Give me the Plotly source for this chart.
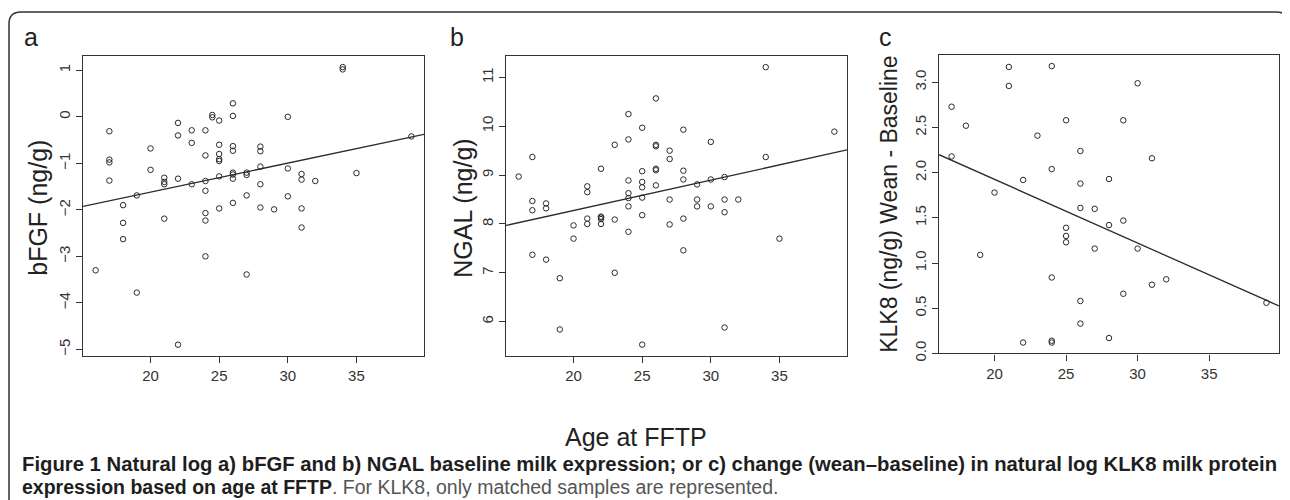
import plotly.graph_objects as go

# ---------------- data ----------------
# Panel a: bFGF (ln ng/g) vs age at FFTP
a_age = [16, 17, 17, 17, 17, 18, 18, 18, 19, 19, 20, 20, 21, 21, 21, 21,
         22, 22, 22, 22, 23, 23, 23, 24, 24, 24, 24, 24, 24, 24, 24.5, 24.5,
         25, 25, 25, 25, 25, 25, 25, 26, 26, 26, 26, 26, 26, 26, 26,
         27, 27, 27, 27, 28, 28, 28, 28, 28, 29, 30, 30, 30, 31, 31, 31, 31,
         32, 34, 34, 35, 39]
a_val = [-3.30, -0.31, -0.92, -0.98, -1.37, -1.90, -2.28, -2.63, -1.69, -3.78,
         -0.68, -1.14, -1.31, -1.40, -1.45, -2.19, -0.13, -0.40, -1.33, -4.90,
         -0.29, -0.56, -1.45, -0.29, -0.83, -1.38, -1.59, -2.07, -2.23, -3.00,
         0.04, -0.01, -0.08, -0.60, -0.80, -0.91, -0.95, -1.28, -1.97,
         0.29, 0.02, -0.63, -0.73, -1.20, -1.24, -1.33, -1.85,
         -1.20, -1.25, -1.69, -3.39, -0.64, -0.74, -1.07, -1.45, -1.95,
         -1.99, 0.00, -1.11, -1.71, -1.23, -1.35, -1.97, -2.38,
         -1.38, 1.07, 1.02, -1.21, -0.42]
a_fit = (-2.864, 0.0623)  # intercept, slope

# Panel b: NGAL (ln ng/g) vs age at FFTP
b_age = [16, 17, 17, 17, 17, 18, 18, 18, 19, 19, 20, 20, 21, 21, 21, 21,
         22, 22, 22, 22, 22, 23, 23, 23, 24, 24, 24, 24, 24, 24, 24,
         25, 25, 25, 25, 25, 25, 25, 26, 26, 26, 26, 26, 26,
         27, 27, 27, 27, 28, 28, 28, 28, 28, 29, 29, 29, 30, 30, 30,
         31, 31, 31, 31, 32, 34, 34, 35, 39]
b_val = [8.97, 9.37, 8.47, 8.28, 7.37, 8.42, 8.32, 7.27, 6.89, 5.84, 7.97, 7.70,
         8.77, 8.65, 8.11, 8.00, 9.13, 8.15, 8.13, 8.10, 8.00, 9.62, 8.09, 7.00,
         10.25, 9.73, 8.89, 8.63, 8.53, 8.36, 7.84,
         9.97, 9.08, 8.86, 8.75, 8.54, 8.18, 5.53, 10.57, 9.62, 9.59, 9.13, 9.10, 8.79,
         9.50, 9.33, 8.50, 7.99, 9.93, 9.09, 8.91, 8.11, 7.46, 8.81, 8.50, 8.36,
         9.68, 8.91, 8.36, 8.96, 8.50, 8.24, 5.88, 8.50, 11.21, 9.37, 7.70, 9.89]
b_fit = (7.030, 0.06225)

# Panel c: KLK8 change (wean - baseline) vs age at FFTP
c_age = [17, 17, 18, 19, 20, 21, 21, 22, 22, 23, 24, 24, 24, 24, 24,
         25, 25, 25, 25, 26, 26, 26, 26, 26, 27, 27, 28, 28, 28,
         29, 29, 29, 30, 30, 31, 31, 32, 39]
c_val = [2.73, 2.18, 2.52, 1.09, 1.78, 3.17, 2.96, 1.92, 0.12, 2.41, 3.18, 2.04, 0.84, 0.14, 0.12,
         2.58, 1.39, 1.30, 1.23, 2.24, 1.88, 1.61, 0.58, 0.33, 1.60, 1.16, 1.93, 1.42, 0.17,
         2.58, 1.47, 0.66, 2.99, 1.16, 2.16, 0.76, 0.82, 0.56]
c_fit = (3.335, -0.07046)

x_ticks = [20, 25, 30, 35]
a_yticks = [-5, -4, -3, -2, -1, 0, 1]
b_yticks = [6, 7, 8, 9, 10, 11]
c_yticks = [0.0, 0.5, 1.0, 1.5, 2.0, 2.5, 3.0]
c_yticktext = ["0.0", "0.5", "1.0", "1.5", "2.0", "2.5", "3.0"]

a_xrange, a_yrange = [15.08, 39.92], [-5.14, 1.31]
b_xrange, b_yrange = [15.08, 39.92], [5.30, 11.44]
c_xrange, c_yrange = [16.12, 39.88], [0.0, 3.30]

# ---------------- figure ----------------
W, H = 1290, 500
OFF = 8  # page body margin
FONT = "Liberation Sans, Arial, sans-serif"
INK = "#2a2a2a"


def px(x):
    return (x - OFF) / W


def py(y):
    return 1 - (y - OFF) / H


fig = go.Figure()

panels = [
    (a_age, a_val, a_fit, a_xrange, "x", "y"),
    (b_age, b_val, b_fit, b_xrange, "x2", "y2"),
    (c_age, c_val, c_fit, c_xrange, "x3", "y3"),
]
for ages, vals, (b0, b1), xr, xa, ya in panels:
    fig.add_trace(go.Scatter(
        x=ages, y=vals, mode="markers", xaxis=xa, yaxis=ya,
        marker=dict(symbol="circle-open", size=5.5, color=INK, line=dict(width=1, color=INK)),
        showlegend=False, hoverinfo="x+y"))
    fig.add_trace(go.Scatter(
        x=xr, y=[b0 + b1 * xr[0], b0 + b1 * xr[1]], mode="lines", xaxis=xa, yaxis=ya,
        line=dict(color=INK, width=1.3), showlegend=False, hoverinfo="skip"))

axis_common = dict(showgrid=False, zeroline=False, showline=True, mirror=True,
                   linecolor="#333", linewidth=1.3, ticks="outside", ticklen=6,
                   tickwidth=1.2, tickcolor="#333",
                   tickfont=dict(family=FONT, size=15, color="#333"))

fig.update_layout(
    width=W, height=H, margin=dict(l=0, r=0, t=0, b=0),
    paper_bgcolor="white", plot_bgcolor="white",
    xaxis=dict(domain=[px(83), px(424)], range=a_xrange, tickvals=x_ticks, anchor="y", **axis_common),
    yaxis=dict(domain=[py(361.5), py(56.7)], range=a_yrange, tickvals=a_yticks, tickangle=-90,
               anchor="x", **axis_common),
    xaxis2=dict(domain=[px(506), px(847)], range=b_xrange, tickvals=x_ticks, anchor="y2", **axis_common),
    yaxis2=dict(domain=[py(361.5), py(56.7)], range=b_yrange, tickvals=b_yticks, tickangle=-90,
                anchor="x2", **axis_common),
    xaxis3=dict(domain=[px(939), px(1279)], range=c_xrange, tickvals=x_ticks, anchor="y3", **axis_common),
    yaxis3=dict(domain=[py(359), py(56)], range=c_yrange, tickvals=c_yticks, ticktext=c_yticktext,
                tickangle=-90, anchor="x3", **axis_common),
)

ann = []
# panel letters
for letter, x in [("a", 31), ("b", 457), ("c", 885)]:
    ann.append(dict(text=letter, x=px(x), y=py(37), xref="paper", yref="paper",
                    xanchor="center", yanchor="middle",
                    showarrow=False, font=dict(family=FONT, size=25, color="#222")))
# y titles
for text, x, y, size in [("bFGF (ng/g)", 38, 211, 25), ("NGAL (ng/g)", 463, 212, 25),
                         ("KLK8 (ng/g) Wean - Baseline", 889, 208, 23)]:
    ann.append(dict(text=text, x=px(x), y=py(y), xref="paper", yref="paper", textangle=-90,
                    xanchor="center", yanchor="middle",
                    showarrow=False, font=dict(family=FONT, size=size, color="#222")))
# x title
ann.append(dict(text="Age at FFTP", x=px(636), y=py(444), xref="paper", yref="paper",
                xanchor="center", yanchor="middle",
                showarrow=False, font=dict(family=FONT, size=25, color="#222")))
# caption
CAP = "Liberation Sans Narrow, Arial Narrow, sans-serif"
ann.append(dict(
    text="<b>Figure 1 Natural log a) bFGF and b) NGAL baseline milk expression; or c) change "
         "(wean\u2013baseline) in natural log KLK8 milk protein</b>",
    x=px(20), y=py(471), xref="paper", yref="paper", xanchor="left", yanchor="middle",
    showarrow=False, font=dict(family=CAP, size=20.3, color="#1e1e1e")))
ann.append(dict(
    text="<b>expression based on age at FFTP</b><span style='color:#555'>. For KLK8, only matched "
         "samples are represented.</span>",
    x=px(20), y=py(495), xref="paper", yref="paper", xanchor="left", yanchor="middle",
    showarrow=False, font=dict(family=CAP, size=19.5, color="#1e1e1e")))
fig.update_layout(annotations=ann)

# outer rounded frame
r = 12
path = (f"M {px(9)} {py(H + 20)} L {px(9)} {py(12 + r)} Q {px(9)} {py(12)} {px(9 + r)} {py(12)} "
        f"L {px(1288 - r)} {py(12)} Q {px(1288)} {py(12)} {px(1288)} {py(12 + r)} "
        f"L {px(1288)} {py(H + 20)}")
fig.add_shape(type="path", path=path, xref="paper", yref="paper",
              line=dict(color="#333", width=1.5))

fig.write_html("out.html")
